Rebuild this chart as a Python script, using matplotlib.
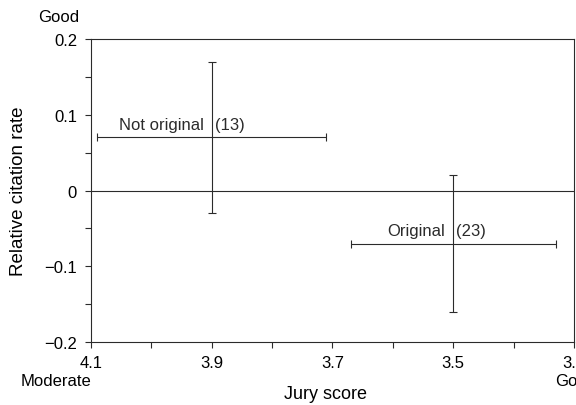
import matplotlib
matplotlib.use("Agg")
from matplotlib import pyplot as plt
import numpy as np

plt.rcParams['font.family'] = ['Liberation Sans', 'DejaVu Sans']

# group means with their ranges
groups = ['Not original', 'Original']
counts = [13, 23]
jury = np.array([3.9, 3.5])
jury_lo = np.array([4.09, 3.67])
jury_hi = np.array([3.71, 3.33])
cite = np.array([0.07, -0.07])
cite_lo = np.array([-0.03, -0.16])
cite_hi = np.array([0.17, 0.02])

xticks = [4.1, 3.9, 3.7, 3.5, 3.3]
xminor = [4.0, 3.8, 3.6, 3.4]
yticks = [-0.2, -0.1, 0, 0.1, 0.2]
yminor = [-0.15, -0.05, 0.05, 0.15]

ink = '#2b2b2b'

fig = plt.figure(figsize=(5.76, 4.06), dpi=100)
ax = fig.add_axes([0.158, 0.155, 0.8385, 0.7465])

ax.axhline(0, color=ink, lw=0.8)

xerr = np.vstack([jury_lo - jury, jury - jury_hi])
yerr = np.vstack([cite - cite_lo, cite_hi - cite])
ax.errorbar(jury, cite, xerr=xerr, yerr=yerr, fmt='none', ecolor=ink,
            elinewidth=0.8, capsize=3, capthick=0.8)

for g, n, x, y in zip(groups, counts, jury, cite):
    ax.text(x + 0.013, y + 0.011, g, ha='right', va='baseline', fontsize=12, color=ink)
    ax.text(x - 0.005, y + 0.011, '(%d)' % n, ha='left', va='baseline', fontsize=12, color=ink)

ax.set_xlim(4.1, 3.3)
ax.set_ylim(-0.2, 0.2)
ax.set_xticks(xticks)
ax.set_xticklabels(['4.1', '3.9', '3.7', '3.5', '3.3'])
ax.set_xticks(xminor, minor=True)
ax.set_yticks(yticks)
ax.set_yticklabels(['\u22120.2', '\u22120.1', '0', '0.1', '0.2'])
ax.set_yticks(yminor, minor=True)

ax.tick_params(which='both', direction='out', colors=ink, labelcolor='black',
               labelsize=12, width=0.8, length=4)
ax.tick_params(axis='y', pad=6)
ax.tick_params(axis='x', pad=5)
for s in ax.spines.values():
    s.set_color(ink)
    s.set_linewidth(0.8)

ax.set_xlabel('Jury score', fontsize=13)
ax.xaxis.set_label_coords(0.485, -0.143)
ax.set_ylabel('Relative citation rate', fontsize=13.5)
ax.yaxis.set_label_coords(-0.132, 0.5)

fig.text(38 / 576, 1 - 17 / 406, 'Good', ha='left', va='center', fontsize=12)
fig.text(21 / 576, 1 - 382 / 406, 'Moderate', ha='left', va='center', fontsize=12)
fig.text(555 / 576, 1 - 382 / 406, 'Good', ha='left', va='center', fontsize=12)

fig.savefig('out.png', dpi=100)
